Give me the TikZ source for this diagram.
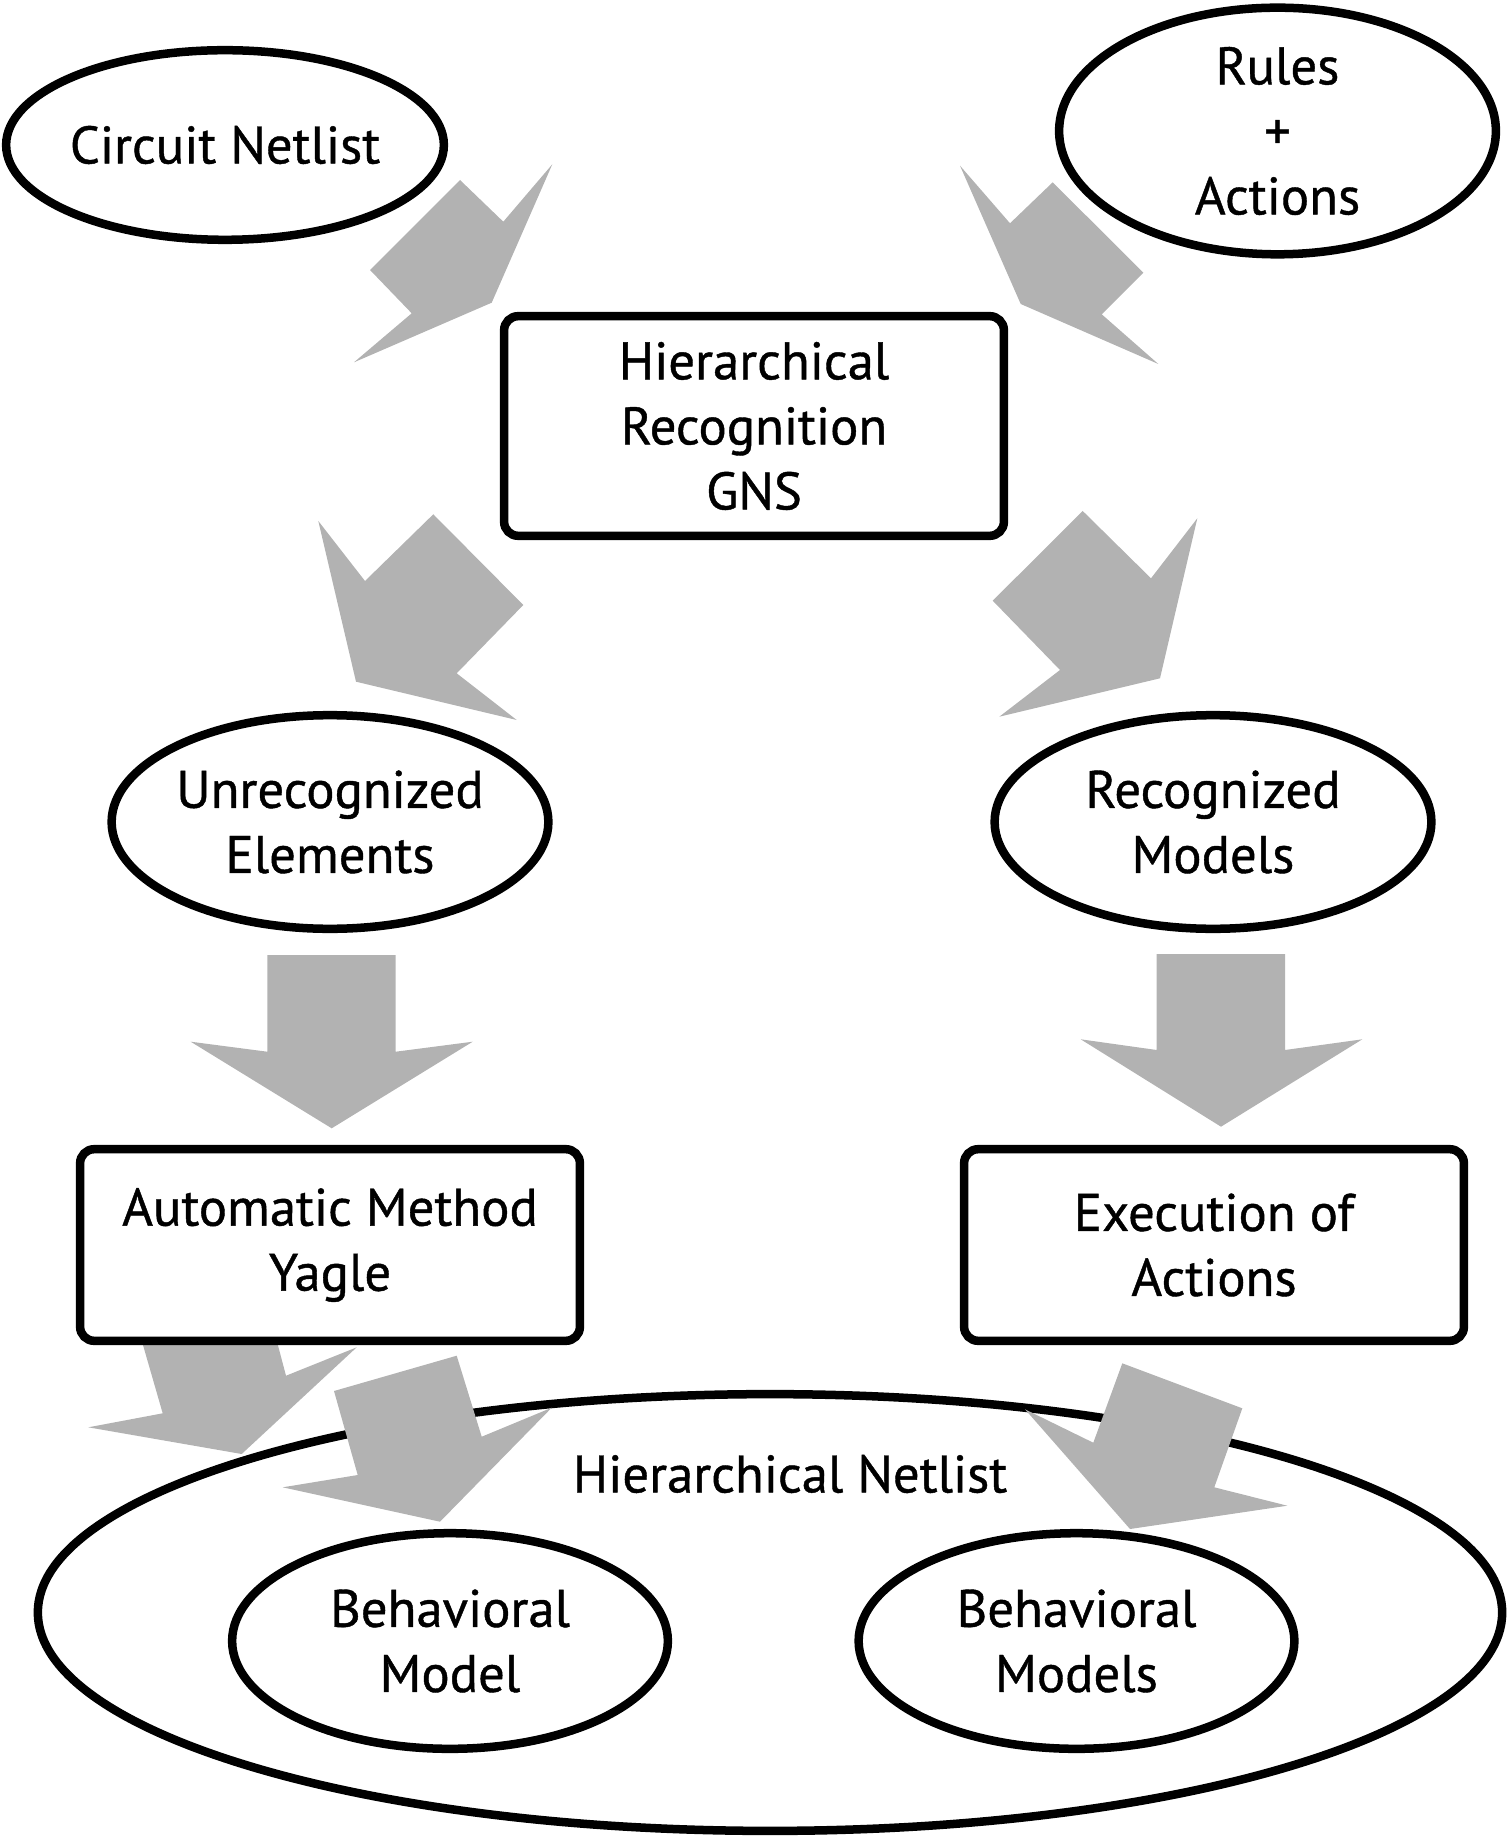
\documentclass[tikz,border=0pt]{standalone}
\usepackage{fontspec}
\setmainfont{PT Sans}[FakeBold=0.8]
\usetikzlibrary{shapes.geometric, positioning}
\tikzstyle{oval} = [ellipse, draw=black, line width=0.85mm, fill=white, inner sep=0pt, inner xsep=-3mm, align=center, font=\fontsize{15}{18.5}\selectfont]
\tikzstyle{process} = [rectangle, rounded corners=1.4mm, draw=black, line width=0.85mm, fill=white, inner sep=0pt, align=center, font=\fontsize{15}{18.5}\selectfont]
\tikzstyle{bigarrow} = [fill=black!30, draw=none]

\begin{document}
\begin{tikzpicture}[x=0.01cm, y=-0.01cm]
    \useasboundingbox (0,0) rectangle (1510,1840);
    % outer netlist first, block arrows go over its line
    \node(hn)[oval, fill=none, minimum width=14.635cm, minimum height=4.365cm] at (770,1612.5) {};
    \node(hnlabel)[font=\fontsize{15}{18.5}\selectfont] at (790,1474) {Hierarchical Netlist};
    %
    \fill[bigarrow] (460,180) -- (503.3,221.7) -- (552.3,164.3) -- (491.7,302.7) -- (354,362.3) -- (411.7,313.3) -- (370,270) -- cycle;
    \fill[bigarrow] (960,165.7) -- (1010,223.3) -- (1052.7,182.3) -- (1143.3,272.7) -- (1101.7,314.3) -- (1158.3,364) -- (1020.7,304) -- cycle;
    \fill[bigarrow] (318.3,521) -- (365,581) -- (433.3,514.3) -- (523.3,605) -- (456.7,673.3) -- (516.7,720) -- (356,681.7) -- cycle;
    \fill[bigarrow] (1082.7,511) -- (1151,578.3) -- (1197.3,518.3) -- (1160,678.3) -- (999.3,716.7) -- (1060,670) -- (992.7,600.7) -- cycle;
    \fill[bigarrow] (267.3,955) -- (395.7,955) -- (395.7,1051.7) -- (472.7,1041.7) -- (331.7,1128.3) -- (190.7,1041.7) -- (267.3,1051.7) -- cycle;
    \fill[bigarrow] (1156.7,954) -- (1285,954) -- (1285,1050) -- (1362.3,1039.3) -- (1221,1126.7) -- (1080.7,1039.3) -- (1156.7,1050) -- cycle;
    \fill[bigarrow] (130,1300) -- (266,1300) -- (286,1375.7) -- (356.7,1347.3) -- (241.7,1454) -- (88.3,1427.3) -- (162.7,1413.3) -- cycle;
    \fill[bigarrow] (334,1391) -- (456.7,1355.7) -- (481.7,1436.7) -- (551.7,1407.7) -- (440,1521.7) -- (282.7,1487.3) -- (357.7,1475) -- cycle;
    \fill[bigarrow] (1122.3,1363.3) -- (1242.3,1408.3) -- (1214.3,1487.3) -- (1287.3,1505.7) -- (1130,1529) -- (1025,1409.3) -- (1093.3,1442.7) -- cycle;
    %
    \node(cn)[oval, minimum width=4.375cm, minimum height=1.895cm] at (225,145) {Circuit Netlist};
    \node(ra)[oval, minimum width=4.365cm, minimum height=2.465cm] at (1277.5,131) {Rules\\+\\Actions};
    \node(hrg)[process, minimum width=4.995cm, minimum height=2.195cm] at (754,426) {Hierarchical\\Recognition\\GNS};
    \node(ue)[oval, minimum width=4.365cm, minimum height=2.135cm] at (330,822) {Unrecognized\\Elements};
    \node(rm)[oval, minimum width=4.365cm, minimum height=2.135cm] at (1213,822) {Recognized\\Models};
    \node(am)[process, minimum width=4.995cm, minimum height=1.915cm] at (330,1245) {Automatic Method\\Yagle};
    \node(ea)[process, minimum width=4.995cm, minimum height=1.915cm] at (1214,1245) {Execution of\\Actions};
    \node(bm)[oval, minimum width=4.355cm, minimum height=2.155cm] at (450,1641) {Behavioral\\Model};
    \node(bms)[oval, minimum width=4.355cm, minimum height=2.155cm] at (1076.5,1641) {Behavioral\\Models};
\end{tikzpicture}
\end{document}
